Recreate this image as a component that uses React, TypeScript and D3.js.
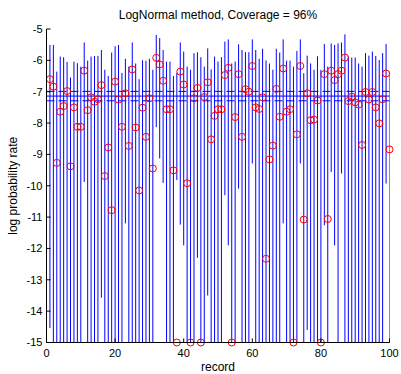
import React from "react";
import * as d3 from "d3";

// Point estimate (log rate) per record
const estimates: number[] = [
  -6.60, -6.84, -9.27, -7.64, -7.46, -6.98, -9.38, -7.50, -8.12, -8.12,
  -6.33, -7.59, -7.18, -7.32, -7.24, -6.79, -9.69, -8.78, -10.78, -6.68,
  -7.25, -8.12, -7.05, -8.73, -6.29, -8.14, -10.15, -7.51, -8.44, -7.21,
  -9.45, -5.92, -6.13, -6.65, -7.56, -7.56, -9.51, -15.0, -6.36, -6.77,
  -9.92, -15.0, -7.21, -6.88, -15.0, -7.17, -6.70, -8.52, -7.77, -7.56,
  -7.56, -6.47, -6.24, -15.0, -7.81, -6.44, -8.44, -6.92, -7.00, -6.18,
  -7.50, -7.55, -7.18, -12.33, -9.16, -8.72, -6.91, -7.80, -6.26, -7.64,
  -7.56, -15.0, -8.36, -6.18, -11.08, -7.05, -7.91, -7.89, -7.28, -15.0,
  -6.44, -11.06, -6.33, -6.63, -6.44, -6.33, -5.91, -7.30, -7.16, -7.34,
  -7.41, -8.70, -7.01, -7.25, -7.01, -7.50, -8.01, -7.24, -6.42, -8.84,
];

// Upper end of each record's interval
const upper: number[] = [
  -5.51, -5.51, -6.36, -5.88, -5.90, -6.05, -6.55, -6.04, -6.09, -6.20,
  -5.43, -6.01, -5.88, -5.86, -5.86, -5.67, -6.30, -6.50, -5.75, -5.55,
  -5.51, -6.40, -5.95, -6.20, -5.43, -6.10, -6.60, -6.00, -6.01, -5.95,
  -6.30, -5.19, -5.29, -5.67, -6.04, -6.04, -6.50, -6.40, -5.43, -5.72,
  -6.20, -6.30, -5.77, -5.74, -5.90, -6.20, -5.62, -6.29, -5.88, -6.04,
  -5.90, -5.40, -5.33, -6.10, -6.04, -5.49, -5.67, -5.74, -5.74, -5.33,
  -5.67, -5.95, -5.63, -6.00, -6.10, -6.30, -5.63, -5.75, -5.33, -6.01,
  -6.01, -6.20, -5.70, -5.33, -6.41, -5.85, -6.10, -6.30, -5.87, -6.30,
  -5.48, -6.20, -5.46, -5.51, -5.46, -5.43, -5.17, -5.88, -5.91, -5.91,
  -6.10, -6.20, -5.77, -5.85, -5.72, -5.86, -5.99, -5.77, -5.48, -6.36,
];

// Lower end of each record's interval (-15 = runs to the bottom of the axis)
const lower: number[] = [
  -14.54, -15, -15, -15, -15, -15, -15, -15, -15, -15,
  -9.88, -15, -15, -15, -15, -13.57, -15, -15, -15, -15,
  -15, -15, -11.2, -15, -15, -15, -15, -15, -15, -15,
  -15, -8.13, -9.13, -9.91, -15, -15, -15, -9.82, -11.24, -11.9,
  -15, -15, -15, -12.3, -15, -15, -13.5, -15, -15, -15,
  -15, -10.3, -11.9, -15, -15, -10.09, -15, -15, -15, -9.29,
  -15, -15, -15, -15, -15, -15, -15, -15, -11.2, -15,
  -15, -15, -15, -9.29, -15, -14.6, -15, -15, -15, -15,
  -11.26, -15, -9.56, -11.9, -15, -9.61, -15, -15, -15, -15,
  -15, -15, -15, -15, -15, -15, -15, -15, -9.93, -15,
];

// Reference level and its band
const meanLevel = -7.14;
const bandLevels = [-6.99, -7.29];

const xTicks = [0, 20, 40, 60, 80, 100];
const yTicks = [-15, -14, -13, -12, -11, -10, -9, -8, -7, -6, -5];

const W = 401;
const H = 374;
const left = 46.5;
const right = 389.5;
const top = 29;
const bottom = 342.5;
const font = "'Liberation Sans', Arial, Helvetica, sans-serif";

export default function App() {
  const x = d3.scaleLinear().domain([0, 100]).range([left, right]);
  const y = d3.scaleLinear().domain([-15, -5]).range([bottom, top]);
  const records = d3.range(1, estimates.length + 1);

  return (
    <svg
      width={W}
      height={H}
      style={{ position: "absolute", left: 0, top: 0, background: "#fff" }}
    >
      <defs>
        <clipPath id="plotArea">
          <rect x={left} y={top} width={right - left} height={bottom - top} />
        </clipPath>
      </defs>

      <g clipPath="url(#plotArea)">
        {records.map((r, i) => (
          <line
            key={`iv${r}`}
            x1={x(r)}
            x2={x(r)}
            y1={y(Math.max(lower[i], -15))}
            y2={y(upper[i])}
            stroke="#0000ff"
            strokeWidth={1}
          />
        ))}
        <line x1={left} x2={right} y1={y(meanLevel)} y2={y(meanLevel)} stroke="#0000ff" strokeWidth={1} />
        {bandLevels.map((v) => (
          <line
            key={`b${v}`}
            x1={left}
            x2={right}
            y1={y(v)}
            y2={y(v)}
            stroke="#0000ff"
            strokeWidth={1}
            strokeDasharray="8 4"
          />
        ))}
      </g>

      {records.map((r, i) => (
        <circle
          key={`pt${r}`}
          cx={x(r)}
          cy={y(estimates[i])}
          r={3.5}
          fill="none"
          stroke="#ff0000"
          strokeWidth={1}
        />
      ))}

      {/* axes */}
      <line x1={left} x2={left} y1={top} y2={bottom} stroke="#000" strokeWidth={1} />
      <line x1={left} x2={right} y1={bottom} y2={bottom} stroke="#000" strokeWidth={1} />
      {yTicks.map((t) => (
        <g key={`yt${t}`}>
          <line x1={left} x2={left + 4} y1={y(t)} y2={y(t)} stroke="#000" />
          <text
            x={left - 4}
            y={y(t)}
            dy="0.35em"
            textAnchor="end"
            fontFamily={font}
            fontSize={11}
          >
            {t}
          </text>
        </g>
      ))}
      {xTicks.map((t) => (
        <g key={`xt${t}`}>
          <line x1={x(t)} x2={x(t)} y1={bottom} y2={bottom - 4} stroke="#000" />
          <text x={x(t)} y={bottom + 14} textAnchor="middle" fontFamily={font} fontSize={11}>
            {t}
          </text>
        </g>
      ))}

      <text x={(left + right) / 2} y={19} textAnchor="middle" fontFamily={font} fontSize={12}>
        LogNormal method, Coverage = 96%
      </text>
      <text x={(left + right) / 2} y={371} textAnchor="middle" fontFamily={font} fontSize={12}>
        record
      </text>
      <text
        transform={`translate(17, ${(top + bottom) / 2}) rotate(-90)`}
        textAnchor="middle"
        fontFamily={font}
        fontSize={12}
      >
        log probability rate
      </text>
    </svg>
  );
}
